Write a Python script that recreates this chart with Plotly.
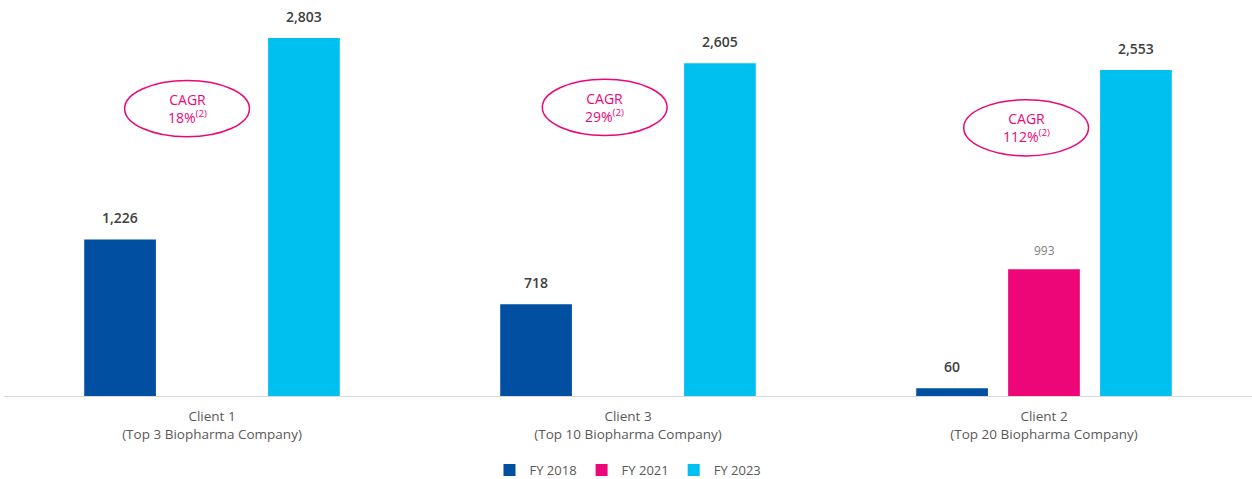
import plotly.graph_objects as go

categories = ["Client 1", "Client 3", "Client 2"]
subtitles = ["(Top 3 Biopharma Company)", "(Top 10 Biopharma Company)", "(Top 20 Biopharma Company)"]
series_names = ["FY 2018", "FY 2021", "FY 2023"]
fy2018 = [1226, 718, 60]
fy2021 = [None, None, 993]
fy2023 = [2803, 2605, 2553]
cagr = ["18%", "29%", "112%"]

colors = ["#004FA0", "#EC0677", "#00C0F0"]
series = [fy2018, fy2021, fy2023]

fig = go.Figure()
for name, vals, col in zip(series_names, series, colors):
    fig.add_trace(go.Bar(x=list(range(len(categories))), y=vals, name=name,
                         marker=dict(color=col, line=dict(width=0))))

# value labels
offsets = [-0.221, 0.0, 0.221]
for si, vals in enumerate(series):
    for ci, v in enumerate(vals):
        if v is None:
            continue
        is_light = series_names[si] == "FY 2021"
        fig.add_annotation(x=ci + offsets[si], y=v, text=f"{v:,}", showarrow=False,
                           yanchor="bottom", yshift=8 if is_light else 10,
                           font=dict(family="Open Sans", size=12 if is_light else 14,
                                     weight=400 if is_light else 600,
                                     color="#7F7F7F" if is_light else "#404040"))

# CAGR ellipses (offsets relative to each category centre)
ell_dx = [-0.06, -0.056, -0.043]
ell_cy = [2250, 2260, 2100]
ell_w = 0.15
ell_h = 440
for ci in range(len(categories)):
    cx, cy = ci + ell_dx[ci], ell_cy[ci]
    fig.add_shape(type="circle", xref="x", yref="y",
                  x0=cx - ell_w, x1=cx + ell_w, y0=cy - ell_h / 2, y1=cy + ell_h / 2,
                  line=dict(color="#EC0677", width=1.5), fillcolor="rgba(0,0,0,0)")
    fig.add_annotation(x=cx, y=cy, text=f"CAGR<br>{cagr[ci]}<sup>(2)</sup>", showarrow=False,
                       font=dict(family="Open Sans", size=14, color="#EC0677"))

ticktext = [f"{c}<br>{s}" for c, s in zip(categories, subtitles)]
fig.update_layout(
    width=1252, height=479,
    margin=dict(l=4, r=0, t=20, b=83, autoexpand=False),
    plot_bgcolor="white", paper_bgcolor="white",
    barmode="group", bargap=0.337, bargroupgap=0.22,
    font=dict(family="Open Sans", color="#595959", size=13),
    xaxis=dict(tickmode="array", tickvals=list(range(len(categories))), ticktext=ticktext,
               range=[-0.5, 2.5], showline=True, linecolor="#D9D9D9", linewidth=1,
               showgrid=False, zeroline=False, ticks="", automargin=False,
               ticklabelstandoff=8,
               tickfont=dict(size=13.5, color="#595959")),
    yaxis=dict(range=[0, 2944], visible=False, showgrid=False, zeroline=False),
    legend=dict(orientation="h", x=0.5, xanchor="center", y=-0.197, yanchor="middle",
                font=dict(size=13, color="#595959"), itemwidth=30, traceorder="normal"),
    showlegend=True,
)
fig.write_html("out.html", config={"displayModeBar": False},
               post_script="document.body.style.margin='0';document.body.style.overflow='hidden';")
